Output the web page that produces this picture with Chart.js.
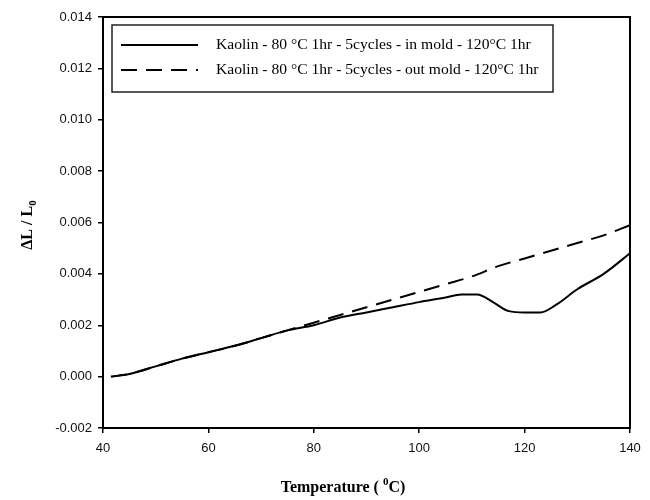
<!DOCTYPE html>
<html>
<head>
<meta charset="utf-8">
<script src="https://cdn.jsdelivr.net/npm/chart.js@4.4.1/dist/chart.umd.min.js"></script>
<style>
  html, body { margin: 0; padding: 0; background: #fff; }
  #wrap { width: 650px; height: 500px; position: relative; }
</style>
</head>
<body>
<div id="wrap"><canvas id="dil-chart"></canvas></div>
<script>
// Series
const inMoldTemp = [41.5, 45, 50, 55, 60, 65, 70, 75, 80, 85, 90, 95, 100, 105, 108, 111, 114, 117, 120, 123, 126, 130, 135, 140];
const inMoldDL = [0.0000, 0.0001, 0.0004, 0.0007, 0.00095, 0.0012, 0.0015, 0.0018, 0.0020, 0.0023, 0.0025, 0.0027, 0.0029, 0.00308, 0.0032, 0.0032, 0.0029, 0.00255, 0.0025, 0.0025, 0.0028, 0.0034, 0.0040, 0.0048];

const outMoldTemp = [41.5, 45, 50, 55, 60, 65, 70, 75, 80, 85, 90, 95, 100, 105, 110, 115, 120, 125, 130, 135, 140];
const outMoldDL = [0.0000, 0.0001, 0.0004, 0.0007, 0.00095, 0.0012, 0.0015, 0.0018, 0.0021, 0.0024, 0.0027, 0.0030, 0.0033, 0.0036, 0.0039, 0.0043, 0.0046, 0.0049, 0.0052, 0.0055, 0.0059];

const seriesLabels = [
  'Kaolin - 80 \u00B0C 1hr - 5cycles - in mold - 120\u00B0C 1hr',
  'Kaolin - 80 \u00B0C 1hr - 5cycles - out mold - 120\u00B0C 1hr'
];

const DASH = [16, 9];
const SERIF = '"Liberation Serif", "Times New Roman", serif';

const toPoints = (xs, ys) => xs.map((x, i) => ({ x: x, y: ys[i] }));

// frame, legend box and axis titles (sub/superscripts need manual drawing)
const decorations = {
  id: 'decorations',
  afterDraw(chart) {
    const ctx = chart.ctx;
    const a = chart.chartArea;
    ctx.save();

    ctx.strokeStyle = '#000';
    ctx.lineWidth = 2;
    ctx.setLineDash([]);
    ctx.strokeRect(a.left, a.top, a.right - a.left, a.bottom - a.top);

    // legend
    ctx.lineWidth = 1.5;
    ctx.strokeStyle = '#222';
    ctx.strokeRect(112, 25, 441, 67);
    const rows = [45, 70];
    const dashes = [[], DASH];
    ctx.lineWidth = 2;
    ctx.strokeStyle = '#000';
    rows.forEach((y, i) => {
      ctx.setLineDash(dashes[i]);
      ctx.beginPath();
      ctx.moveTo(121, y);
      ctx.lineTo(198, y);
      ctx.stroke();
    });
    ctx.setLineDash([]);
    ctx.fillStyle = '#000';
    ctx.font = '15.6px ' + SERIF;
    ctx.textBaseline = 'middle';
    ctx.textAlign = 'left';
    rows.forEach((y, i) => ctx.fillText(seriesLabels[i], 216, y));

    // x title: Temperature (0C)
    const cx = 343;
    const ty = 488;
    const big = 'bold 16px ' + SERIF;
    const small = 'bold 11px ' + SERIF;
    const p1 = 'Temperature ( ', sup = '0', p2 = 'C)';
    ctx.font = big;
    const w1 = ctx.measureText(p1).width, w3 = ctx.measureText(p2).width;
    ctx.font = small;
    const w2 = ctx.measureText(sup).width;
    let x = cx - (w1 + w2 + w3) / 2;
    ctx.font = big;
    ctx.fillText(p1, x, ty);
    ctx.font = small;
    ctx.fillText(sup, x + w1, ty - 6);
    ctx.font = big;
    ctx.fillText(p2, x + w1 + w2, ty);

    // y title: ΔL / L0
    ctx.translate(28, 225);
    ctx.rotate(-Math.PI / 2);
    const q1 = '\u0394L / L', sub = '0';
    ctx.font = big;
    const v1 = ctx.measureText(q1).width;
    ctx.font = small;
    const v2 = ctx.measureText(sub).width;
    x = -(v1 + v2) / 2;
    ctx.font = big;
    ctx.fillText(q1, x, 0);
    ctx.font = small;
    ctx.fillText(sub, x + v1, 5);
    ctx.restore();
  }
};

const ctxEl = document.getElementById('dil-chart');
new Chart(ctxEl.getContext('2d'), {
  type: 'line',
  data: {
    datasets: [{
      label: seriesLabels[0],
      data: toPoints(inMoldTemp, inMoldDL),
      borderColor: '#000',
      borderWidth: 2,
      pointRadius: 0,
      cubicInterpolationMode: 'monotone',
      fill: false
    }, {
      label: seriesLabels[1],
      data: toPoints(outMoldTemp, outMoldDL),
      borderColor: '#000',
      borderWidth: 2,
      borderDash: DASH,
      pointRadius: 0,
      cubicInterpolationMode: 'monotone',
      fill: false
    }]
  },
  options: {
    responsive: true,
    maintainAspectRatio: false,
    animation: false,
    layout: { padding: { top: 17, right: 20, left: 0, bottom: 0 } },
    plugins: {
      legend: { display: false },
      tooltip: { enabled: false }
    },
    scales: {
      x: {
        type: 'linear',
        min: 40,
        max: 140,
        ticks: {
          stepSize: 20,
          color: '#111',
          padding: 8,
          font: { family: '"Liberation Sans", Arial, sans-serif', size: 13 }
        },
        grid: { drawOnChartArea: false, tickLength: 5, color: '#000', lineWidth: 1.5 },
        border: { display: true, color: '#000', width: 2 },
        afterFit(scale) { scale.height = 72; }
      },
      y: {
        min: -0.002,
        max: 0.014,
        ticks: {
          stepSize: 0.002,
          color: '#111',
          padding: 6,
          font: { family: '"Liberation Sans", Arial, sans-serif', size: 13 },
          callback: (v) => v.toFixed(3)
        },
        grid: { drawOnChartArea: false, tickLength: 5, color: '#000', lineWidth: 1.5 },
        border: { display: true, color: '#000', width: 2 },
        afterFit(scale) { scale.width = 103; }
      }
    }
  },
  plugins: [decorations]
});
</script>
</body>
</html>
